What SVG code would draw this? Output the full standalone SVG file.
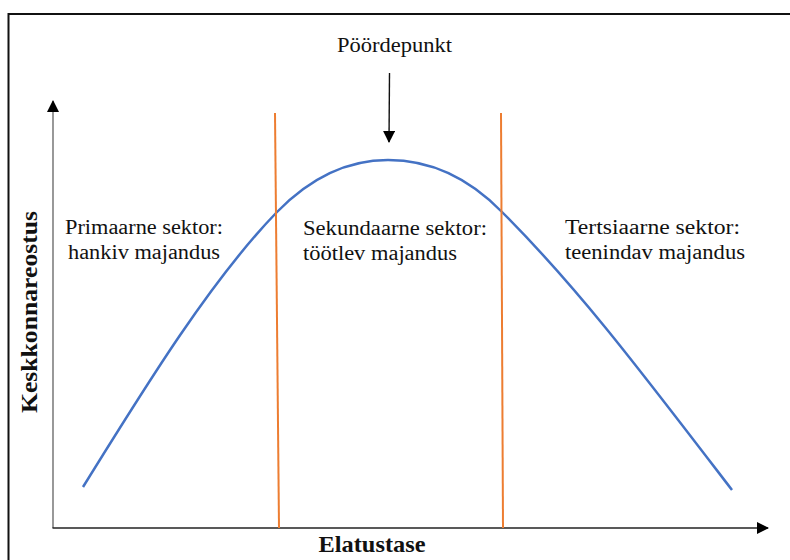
<svg xmlns="http://www.w3.org/2000/svg" width="790" height="560" viewBox="0 0 790 560">
<style>
.lbl{font-family:'Liberation Serif','Times New Roman',serif;font-size:20px;fill:#111}
.ax{font-family:'Liberation Serif','Times New Roman',serif;font-size:23px;font-weight:bold;fill:#111}
.sep{stroke:#ED7D31;stroke-width:2;fill:none}
</style>
<defs>
<marker id="ah" markerWidth="12" markerHeight="12" refX="11" refY="6" orient="auto" markerUnits="userSpaceOnUse">
<path d="M0,0 L12,6 L0,12 Z" fill="#000"/>
</marker>
</defs>
<rect width="790" height="560" fill="#fff"/>
<path d="M8.5,560 V14 H790" fill="none" stroke="#111" stroke-width="2"/>
<g id="axes">
<line x1="53" y1="528" x2="53" y2="101" stroke="#7f7f7f" stroke-width="1.6" marker-end="url(#ah)"/>
<line x1="52.5" y1="528" x2="768" y2="528" stroke="#222" stroke-width="1.6" marker-end="url(#ah)"/>
</g>
<g id="curve">
<path d="M83,487 C148,382 212,279 277,212 C314,174 351,160 388,160 C426,160 464,173 502,212 C579,289 640,370 732,490" fill="none" stroke="#4472C4" stroke-width="2.5"/>
</g>
<g id="separators">
<line class="sep" x1="275" y1="113" x2="279" y2="528"/>
<line class="sep" x1="501" y1="113" x2="503" y2="528"/>
</g>
<g id="connectors">
<line x1="389.5" y1="73" x2="389" y2="142" stroke="#111" stroke-width="1.4" marker-end="url(#ah)"/>
</g>
<g id="turning-point">
<text class="lbl" x="394.5" y="52" text-anchor="middle" textLength="115" lengthAdjust="spacingAndGlyphs">Pöördepunkt</text>
</g>
<g id="primary">
<text class="lbl" x="144" y="234" text-anchor="middle" textLength="158" lengthAdjust="spacingAndGlyphs">Primaarne sektor:</text>
<text class="lbl" x="144" y="259" text-anchor="middle" textLength="152" lengthAdjust="spacingAndGlyphs">hankiv majandus</text>
</g>
<g id="secondary">
<text class="lbl" x="303" y="235" textLength="184" lengthAdjust="spacingAndGlyphs">Sekundaarne sektor:</text>
<text class="lbl" x="303" y="260" textLength="154" lengthAdjust="spacingAndGlyphs">töötlev majandus</text>
</g>
<g id="tertiary">
<text class="lbl" x="565" y="234" textLength="175" lengthAdjust="spacingAndGlyphs">Tertsiaarne sektor:</text>
<text class="lbl" x="565" y="259" textLength="180" lengthAdjust="spacingAndGlyphs">teenindav majandus</text>
</g>
<g id="x-label">
<text class="ax" x="372" y="552" text-anchor="middle" textLength="107" lengthAdjust="spacingAndGlyphs">Elatustase</text>
</g>
<g id="y-label">
<text class="ax" transform="translate(37,312) rotate(-90)" x="0" y="0" text-anchor="middle" textLength="202" lengthAdjust="spacingAndGlyphs">Keskkonnareostus</text>
</g>
</svg>
